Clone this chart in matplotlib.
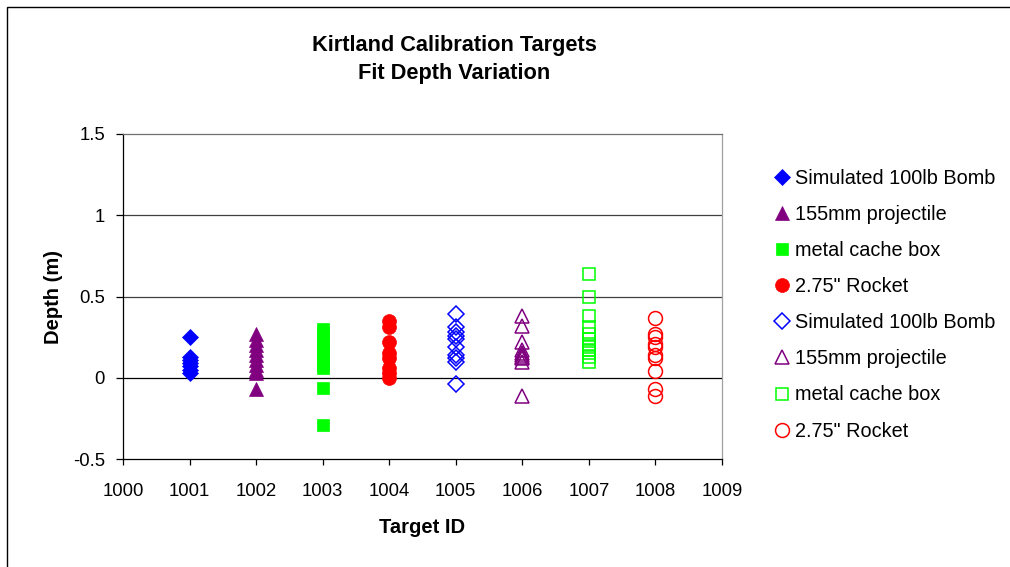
import matplotlib
matplotlib.use("Agg")
import matplotlib.pyplot as plt
from matplotlib.patches import Rectangle

plt.rcParams['font.family'] = ['Liberation Sans', 'DejaVu Sans']

labels = ['Simulated 100lb Bomb', '155mm projectile', 'metal cache box', '2.75" Rocket',
          'Simulated 100lb Bomb', '155mm projectile', 'metal cache box', '2.75" Rocket']
target_ids = [1001, 1002, 1003, 1004, 1005, 1006, 1007, 1008]

depth_1001 = [0.25, 0.13, 0.11, 0.09, 0.07, 0.05, 0.03]
depth_1002 = [0.27, 0.23, 0.20, 0.17, 0.14, 0.11, 0.08, 0.05, 0.03, -0.07]
depth_1003 = [0.30, 0.27, 0.23, 0.20, 0.17, 0.14, 0.11, 0.08, 0.06, -0.06, -0.29]
depth_1004 = [0.35, 0.31, 0.22, 0.15, 0.12, 0.06, 0.03, 0.00]
depth_1005 = [0.39, 0.31, 0.28, 0.26, 0.24, 0.19, 0.14, 0.12, 0.10, -0.04]
depth_1006 = [0.38, 0.32, 0.22, 0.17, 0.15, 0.14, 0.13, 0.12, 0.10, -0.11]
depth_1007 = [0.64, 0.50, 0.38, 0.31, 0.27, 0.24, 0.21, 0.19, 0.17, 0.15, 0.13, 0.10]
depth_1008 = [0.37, 0.27, 0.25, 0.21, 0.19, 0.14, 0.12, 0.04, -0.07, -0.11]

depths = [depth_1001, depth_1002, depth_1003, depth_1004,
          depth_1005, depth_1006, depth_1007, depth_1008]
colors = ['#0000FF', '#800080', '#00FF00', '#FF0000',
          '#0000FF', '#800080', '#00FF00', '#FF0000']
markers = ['D', '^', 's', 'o', 'D', '^', 's', 'o']
sizes = [8, 10, 9, 10, 8, 10, 9, 10]
filled = [True, True, True, True, False, False, False, False]

W, H = 1010, 567
fig = plt.figure(figsize=(W / 100, H / 100), dpi=100)
fig.patch.set_facecolor('white')

# outer chart border
fig.patches.append(Rectangle((7 / W, -0.1), 1.2, (H - 7) / H + 0.1, transform=fig.transFigure,
                             fill=False, edgecolor='black', linewidth=1.0, clip_on=False))

ax = fig.add_axes([123 / W, (H - 459) / H, 599 / W, 325 / H])

for tid, d, c, m, s, f, lab in zip(target_ids, depths, colors, markers, sizes, filled, labels):
    ax.plot([tid] * len(d), d, linestyle='none', marker=m, markersize=s,
            markerfacecolor=c if f else 'none', markeredgecolor=c,
            markeredgewidth=0.5 if f else 1.1, label=lab, clip_on=False, zorder=3)

ax.set_xlim(1000, 1009)
ax.set_ylim(-0.5, 1.5)
ax.set_xticks(range(1000, 1010))
ax.set_yticks([-0.5, 0, 0.5, 1, 1.5])
ax.set_yticklabels(['-0.5', '0', '0.5', '1', '1.5'])
for yv in [0.5, 1.0]:
    ax.axhline(yv, color='#404040', linewidth=0.9, zorder=1)
ax.axhline(0, color='black', linewidth=0.9, zorder=1)

ax.spines['top'].set_color('#707070')
ax.spines['right'].set_color('#a0a0a0')
ax.spines['left'].set_color('black')
ax.spines['bottom'].set_color('black')
for sp in ax.spines.values():
    sp.set_linewidth(0.9)
ax.tick_params(axis='both', direction='out', width=0.9, labelsize=13.3, color='black')
ax.tick_params(axis='x', length=4.5, pad=13)
ax.tick_params(axis='y', length=5, pad=8)

ax.set_xlabel('Target ID', fontsize=14.5, fontweight='bold', labelpad=13)
ax.set_ylabel('Depth (m)', fontsize=14.5, fontweight='bold', labelpad=7)

fig.text(454 / W, 1 - 45 / H, 'Kirtland Calibration Targets', ha='center', va='center',
         fontsize=15.7, fontweight='bold')
fig.text(454 / W, 1 - 74 / H, 'Fit Depth Variation', ha='center', va='center',
         fontsize=15.7, fontweight='bold')

leg = ax.legend(loc='upper left', bbox_to_anchor=(774 / W, 1 - 169 / H),
                bbox_transform=fig.transFigure, frameon=False, fontsize=14.3,
                handlelength=0.8, handletextpad=0.25, labelspacing=0.86,
                borderaxespad=0, borderpad=0, markerscale=1.0)

fig.savefig('out.png', dpi=100)
